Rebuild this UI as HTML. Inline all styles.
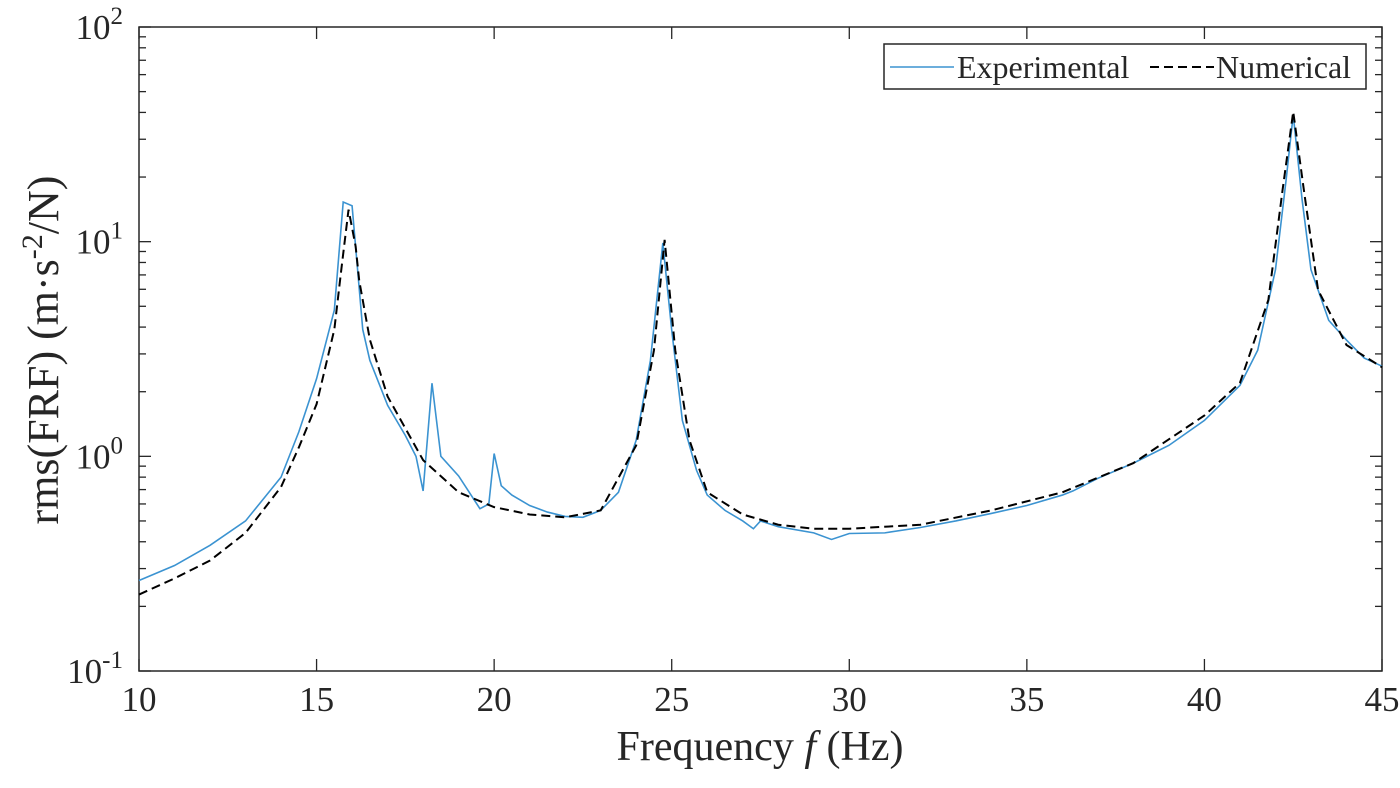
<!DOCTYPE html>
<html><head><meta charset="utf-8"><style>
body{margin:0;background:#fff}
svg text{font-family:"Liberation Serif",serif;fill:#262626}
</style></head><body>
<svg id="chart" width="1400" height="783" xmlns="http://www.w3.org/2000/svg">
<g id="axes"></g>
<g id="series"></g>
<text x="760" y="760" font-size="42" text-anchor="middle">Frequency <tspan font-style="italic">f</tspan> (Hz)</text>
<text transform="translate(58,350) rotate(-90)" font-size="44" text-anchor="middle">rms(FRF) (m·s<tspan dy="-16" font-size="30">-2</tspan><tspan dy="16">/N)</tspan></text>
<g>
<rect x="884" y="44" width="482" height="45" fill="#fff" stroke="#262626" stroke-width="1.5"/>
<line x1="890" y1="67" x2="954" y2="67" stroke="#3b93d1" stroke-width="1.6"/>
<text x="957" y="78" font-size="32">Experimental</text>
<line x1="1150" y1="67" x2="1214" y2="67" stroke="#000" stroke-width="2" stroke-dasharray="9,5"/>
<text x="1216" y="78" font-size="32">Numerical</text>
</g>
</svg>
<script>
const xTicks=[10,15,20,25,30,35,40,45];
const yDecades=[-1,0,1,2];
const expFreq=[10,11,12,13,14,14.5,15,15.5,15.75,16.0,16.3,16.5,17,17.5,17.8,18.0,18.25,18.5,19,19.6,19.85,20.0,20.2,20.5,21,21.5,22,22.5,23,23.5,24,24.4,24.75,25,25.3,25.7,26,26.5,27,27.3,27.5,28,29,29.5,30,31,32,33,34,35,36,36.3,37,38,39,40,41,41.5,42,42.3,42.5,42.75,43,43.5,44,44.5,45];
const expVal=[0.264,0.31,0.385,0.5,0.8,1.3,2.3,4.8,15.3,14.7,3.9,2.8,1.73,1.25,1.0,0.69,2.19,1.0,0.81,0.57,0.6,1.03,0.73,0.66,0.59,0.55,0.525,0.52,0.56,0.68,1.19,2.8,9.86,3.87,1.47,0.86,0.66,0.56,0.5,0.46,0.5,0.47,0.44,0.41,0.437,0.44,0.466,0.5,0.542,0.59,0.66,0.69,0.79,0.93,1.125,1.47,2.14,3.12,7.4,19.4,39,15.7,7.4,4.3,3.48,2.87,2.63];
const numFreq=[10,11,12,13,14,14.5,15,15.5,15.7,15.9,16.1,16.2,16.5,17,18,19,20,21,22,23,24,24.5,24.8,25.1,25.5,26,27,28,29,30,32,34,36,38,40,41,41.8,42.2,42.5,42.8,43.2,44,45];
const numVal=[0.227,0.27,0.327,0.44,0.72,1.1,1.75,3.9,7.5,14.1,9.5,6.6,3.5,1.9,0.96,0.68,0.58,0.536,0.52,0.56,1.125,3.12,10.2,3.12,1.19,0.68,0.536,0.48,0.46,0.46,0.48,0.56,0.68,0.93,1.55,2.2,5.35,17.4,40.3,17.4,5.95,3.3,2.6];
const L=139,R=1382,T=27,B=671;
const xs=f=>L+(f-10)/35*(R-L);
const ys=v=>B-(Math.log10(v)+1)/3*(B-T);
const NS='http://www.w3.org/2000/svg';
const axes=document.getElementById('axes'),ser=document.getElementById('series');
function mk(tag,attrs,parent){const e=document.createElementNS(NS,tag);for(const k in attrs)e.setAttribute(k,attrs[k]);parent.appendChild(e);return e;}
const box=mk('rect',{x:L,y:T,width:R-L,height:B-T,fill:'none',stroke:'#262626','stroke-width':1.5},axes);


xTicks.forEach(t=>{const x=xs(t);
 const a=mk('line',{x1:x,x2:x,y1:B,y2:B-12,stroke:'#262626','stroke-width':1.3},axes);
 
 
 const b=mk('line',{x1:x,x2:x,y1:T,y2:T+12,stroke:'#262626','stroke-width':1.3},axes);
 
 
 const tx=mk('text',{x:x,y:B+40,'font-size':35,'text-anchor':'middle'},axes);tx.textContent=t;
 
 
});
yDecades.forEach(d=>{const y=ys(Math.pow(10,d));
 const tx=mk('text',{x:L-16,y:y+12,'font-size':35,'text-anchor':'end'},axes);
 tx.innerHTML='10<tspan dy="-15" font-size="25">'+d+'</tspan>';
 
 
 for(let m=1;m<=9;m++){if(d===2&&m>1)break;const yy=ys(m*Math.pow(10,d));const len=m===1?12:7;
  const a=mk('line',{x1:L,x2:L+len,y1:yy,y2:yy,stroke:'#262626','stroke-width':1.3},axes);
  
  
  const b=mk('line',{x1:R,x2:R-len,y1:yy,y2:yy,stroke:'#262626','stroke-width':1.3},axes);
  
  
 }
});
const pe=mk('polyline',{points:expFreq.map((f,i)=>xs(f)+','+ys(expVal[i])).join(' '),fill:'none',stroke:'#3b93d1','stroke-width':1.6},ser);


const pn=mk('polyline',{points:numFreq.map((f,i)=>xs(f)+','+ys(numVal[i])).join(' '),fill:'none',stroke:'#000','stroke-width':2,'stroke-dasharray':'9,5'},ser);


</script>
</body></html>
